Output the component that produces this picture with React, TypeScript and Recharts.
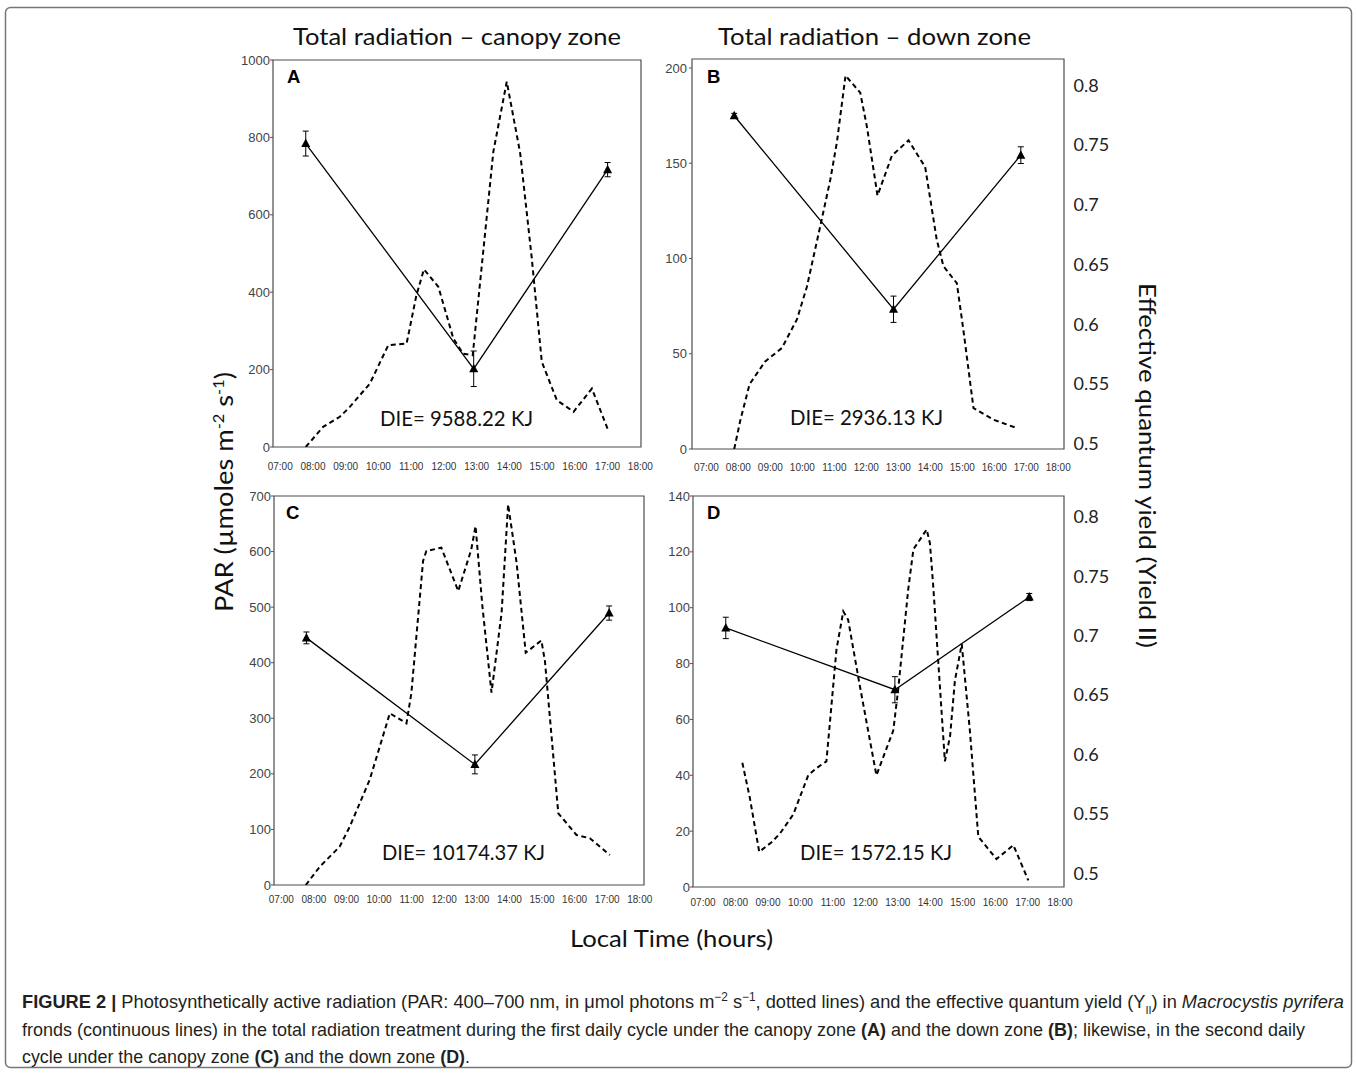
import React from "react";
import { LineChart, Line, XAxis, YAxis, ErrorBar, ReferenceArea } from "recharts";

// shared tick labels
const hourTicks = [7, 8, 9, 10, 11, 12, 13, 14, 15, 16, 17, 18];
const yieldTicks = [0.5, 0.55, 0.6, 0.65, 0.7, 0.75, 0.8];

// A: total radiation, canopy zone (first cycle)
const parTimeA = [7.78, 8.31, 8.82, 9.12, 9.74, 10.3, 10.86, 11.16, 11.39, 11.83, 12.29, 12.59, 12.88, 13.51, 13.92, 14.33, 14.68, 14.99, 15.45, 15.96, 16.52, 17.0];
const parA = [0, 52, 78, 103, 164, 263, 267, 392, 459, 414, 280, 241, 237, 763, 944, 759, 491, 220, 121, 91, 151, 47];
const yieldTimeA = [7.78, 12.91, 17.0];
const yieldA = [0.751, 0.561, 0.729];
const yieldErrA = [0.0105, 0.015, 0.006];
const parTicksA = [0, 200, 400, 600, 800, 1000];

// B: total radiation, down zone (first cycle)
const parTimeB = [7.87, 8.06, 8.35, 8.84, 9.36, 9.83, 10.14, 10.56, 10.87, 11.08, 11.35, 11.81, 12.02, 12.35, 12.8, 13.32, 13.84, 14.2, 14.41, 14.83, 15.03, 15.35, 15.97, 16.7];
const parB = [0, 15, 34, 46, 53, 68, 85, 117, 141, 161, 196, 187, 169, 133, 154, 162, 148, 110, 96, 87, 63, 21.5, 15.4, 11];
const yieldTimeB = [7.87, 12.85, 16.83];
const yieldB = [0.774, 0.612, 0.741];
const yieldErrB = [0.002, 0.011, 0.007];
const parTicksB = [0, 50, 100, 150, 200];

// C: total radiation, canopy zone (second cycle)
const parTimeC = [7.75, 8.18, 8.79, 9.1, 9.71, 10.02, 10.33, 10.84, 10.99, 11.35, 11.45, 11.91, 12.43, 12.83, 12.96, 13.17, 13.45, 13.76, 13.96, 14.22, 14.5, 14.98, 15.09, 15.5, 16.06, 16.47, 17.08];
const parC = [0, 33, 69, 105, 189, 249, 309, 291, 345, 583, 601, 607, 529, 604, 646, 502, 346, 490, 685, 580, 418, 440, 403, 129, 90, 84, 54];
const yieldTimeC = [7.77, 12.94, 17.06];
const yieldC = [0.697, 0.59, 0.718];
const yieldErrC = [0.005, 0.008, 0.006];
const parTicksC = [0, 100, 200, 300, 400, 500, 600, 700];

// D: total radiation, down zone (second cycle)
const parTimeD = [8.21, 8.44, 8.73, 9.11, 9.36, 9.78, 10.24, 10.49, 10.8, 11.11, 11.32, 11.47, 11.83, 12.34, 12.86, 13.01, 13.32, 13.48, 13.89, 13.99, 14.09, 14.45, 14.61, 14.76, 14.97, 15.22, 15.48, 16.04, 16.56, 17.02];
const parD = [44.5, 32, 12.6, 16, 19, 26, 40, 42.5, 45, 85, 98.7, 95.7, 72, 40, 56, 70.6, 106.5, 120.9, 128, 123, 108, 45, 54, 74, 87, 56, 18, 10, 15, 2.4];
const yieldTimeD = [7.7, 12.91, 17.05];
const yieldD = [0.706, 0.654, 0.732];
const yieldErrD = [0.009, 0.011, 0.003];
const parTicksD = [0, 20, 40, 60, 80, 100, 120, 140];

const rows = (t: number[], v: number[], e?: number[]) =>
  t.map((x, i) => ({ t: x, v: v[i], e: e ? e[i] : 0 }));

const hhmm = (h: number) => `${String(h).padStart(2, "0")}:00`;

const ARIAL = "'Liberation Sans', Arial, sans-serif";
const CALI = "Lato, 'Open Sans', sans-serif";

function Tri(p: any) {
  const { cx, cy, index } = p;
  if (cx == null || cy == null) return <g key={`t${index}`} />;
  return (
    <path
      key={`t${index}`}
      d={`M${cx},${cy - 5} L${cx + 4.5},${cy + 3.5} L${cx - 4.5},${cy + 3.5} Z`}
      fill="#000"
    />
  );
}

type PanelProps = {
  par: { t: number; v: number }[];
  yld: { t: number; v: number; e: number }[];
  parTicks: number[];
  parMax: number;
  xDomain: [number, number];
  yDomain: [number, number];
  box: { l: number; t: number; w: number; h: number };
  right: boolean;
  xLabelDy: number;
  leftMargin: number;
};

function Panel({ par, yld, parTicks, parMax, xDomain, yDomain, box, right, xLabelDy, leftMargin }: PanelProps) {
  const yw = 45;
  const rw = right ? 50 : 0;
  const pad = 25;
  const width = yw + box.w + rw + pad;
  const height = 10 + box.h + 30;
  return (
    <div style={{ position: "absolute", left: box.l - yw, top: box.t - 10 }}>
      <LineChart width={width} height={height} margin={{ top: 10, right: pad, bottom: 0, left: 0 }}>
        <XAxis
          type="number"
          dataKey="t"
          domain={xDomain}
          ticks={hourTicks}
          interval={0}
          allowDataOverflow
          axisLine={false}
          tickLine={false}
          tickSize={0}
          tickMargin={0}
          height={30}
          tick={(p: any) => (
            <text x={p.x} y={p.y + xLabelDy} textAnchor="middle" dominantBaseline="central" fontSize={10} fill="#333" fontFamily={ARIAL}>
              {hhmm(p.payload.value)}
            </text>
          )}
        />
        <YAxis
          yAxisId="par"
          type="number"
          domain={[0, parMax]}
          ticks={parTicks}
          interval={0}
          allowDataOverflow
          width={yw}
          axisLine={false}
          tickLine={{ stroke: "#555" }}
          tickSize={3}
          tickMargin={leftMargin}
          tick={{ fontSize: 13, fill: "#444", fontFamily: ARIAL }}
        />
        <YAxis
          yAxisId="yield"
          orientation="right"
          type="number"
          domain={yDomain}
          ticks={yieldTicks}
          interval={0}
          allowDataOverflow
          hide={!right}
          width={rw}
          axisLine={false}
          tickLine={false}
          tickSize={0}
          tickMargin={0}
          tick={(p: any) => (
            <text x={p.x + 9.5} y={p.y} dominantBaseline="central" fontSize={18} fill="#222" fontFamily={CALI}>
              {String(p.payload.value)}
            </text>
          )}
        />
        <ReferenceArea
          yAxisId="par"
          x1={xDomain[0]}
          x2={xDomain[1]}
          y1={0}
          y2={parMax}
          fill="none"
          stroke="#4d4d4d"
          strokeWidth={1.2}
          ifOverflow="visible"
        />
        <Line
          data={par}
          dataKey="v"
          yAxisId="par"
          type="linear"
          stroke="#000"
          strokeWidth={2}
          strokeDasharray="5 3.5"
          dot={false}
          activeDot={false}
          isAnimationActive={false}
        />
        <Line
          data={yld}
          dataKey="v"
          yAxisId="yield"
          type="linear"
          stroke="#000"
          strokeWidth={1.3}
          dot={Tri}
          activeDot={false}
          isAnimationActive={false}
        >
          <ErrorBar dataKey="e" direction="y" width={3} strokeWidth={1} stroke="#000" />
        </Line>
      </LineChart>
    </div>
  );
}

export default function App() {
  return (
    <div style={{ position: "absolute", left: 0, top: 0, width: 1357, height: 1074, background: "#fff" }}>
      <Panel
        par={rows(parTimeA, parA)}
        yld={rows(yieldTimeA, yieldA, yieldErrA)}
        parTicks={parTicksA}
        parMax={1000}
        xDomain={[6.78, 18.02]}
        yDomain={[0.495, 0.8215]}
        box={{ l: 273, t: 60, w: 368, h: 387 }}
        right={false}
        xLabelDy={19.7}
        leftMargin={0}
      />
      <Panel
        par={rows(parTimeB, parB)}
        yld={rows(yieldTimeB, yieldB, yieldErrB)}
        parTicks={parTicksB}
        parMax={204.7}
        xDomain={[6.55, 18.18]}
        yDomain={[0.495, 0.8215]}
        box={{ l: 692, t: 59, w: 372, h: 390 }}
        right={true}
        xLabelDy={18.4}
        leftMargin={2}
      />
      <Panel
        par={rows(parTimeC, parC)}
        yld={rows(yieldTimeC, yieldC, yieldErrC)}
        parTicks={parTicksC}
        parMax={700}
        xDomain={[6.775, 18.13]}
        yDomain={[0.488, 0.817]}
        box={{ l: 274, t: 496, w: 370, h: 389 }}
        right={false}
        xLabelDy={14.3}
        leftMargin={0}
      />
      <Panel
        par={rows(parTimeD, parD)}
        yld={rows(yieldTimeD, yieldD, yieldErrD)}
        parTicks={parTicksD}
        parMax={140}
        xDomain={[6.69, 18.12]}
        yDomain={[0.488, 0.817]}
        box={{ l: 693, t: 496, w: 371, h: 391 }}
        right={true}
        xLabelDy={15}
        leftMargin={0}
      />

      <svg width={1357} height={1074} style={{ position: "absolute", left: 0, top: 0, pointerEvents: "none" }}>
        <rect x={5.5} y={7.5} width={1346} height={1060} rx={5} fill="none" stroke="#777" strokeWidth={1.5} />

        <g fontFamily={CALI} fill="#111">
          <text x={293} y={45} fontSize={24} textLength={328} lengthAdjust="spacingAndGlyphs">Total radiation – canopy zone</text>
          <text x={718} y={45} fontSize={24} textLength={313} lengthAdjust="spacingAndGlyphs">Total radiation – down zone</text>

          <text x={380} y={426} fontSize={21} textLength={153} lengthAdjust="spacingAndGlyphs">DIE= 9588.22 KJ</text>
          <text x={790} y={425} fontSize={21} textLength={153} lengthAdjust="spacingAndGlyphs">DIE= 2936.13 KJ</text>
          <text x={382} y={860} fontSize={21} textLength={163} lengthAdjust="spacingAndGlyphs">DIE= 10174.37 KJ</text>
          <text x={800} y={860} fontSize={21} textLength={152} lengthAdjust="spacingAndGlyphs">DIE= 1572.15 KJ</text>

          <text x={570} y={947} fontSize={24} textLength={203} lengthAdjust="spacingAndGlyphs">Local Time (hours)</text>

          <text transform="translate(233,612) rotate(-90)" fontSize={25} textLength={240} lengthAdjust="spacingAndGlyphs">
            PAR (µmoles m<tspan baselineShift="super" fontSize={15}>-2</tspan> s<tspan baselineShift="super" fontSize={15}>-1</tspan>)
          </text>
          <text transform="translate(1139,283) rotate(90)" fontSize={24} textLength={365} lengthAdjust="spacingAndGlyphs">
            Effective quantum yield (Yield II)
          </text>
        </g>

        <g fontFamily={ARIAL} fontWeight="bold" fontSize={18.5} fill="#000">
          <text x={287} y={83}>A</text>
          <text x={707} y={83}>B</text>
          <text x={286} y={519}>C</text>
          <text x={707} y={519}>D</text>
        </g>

        <g fontFamily={ARIAL} fontSize={18.5} fill="#231f20">
          <text x={22} y={1008} textLength={1322} lengthAdjust="spacingAndGlyphs">
            <tspan fontWeight="bold">FIGURE 2 |</tspan>{" "}Photosynthetically active radiation (PAR: 400–700 nm, in μmol photons m
            <tspan baselineShift="super" fontSize={12}>−2</tspan>{" "}s<tspan baselineShift="super" fontSize={12}>−1</tspan>, dotted lines) and the effective quantum yield (Y
            <tspan baselineShift="sub" fontSize={11}>II</tspan>) in{" "}
            <tspan fontStyle="italic">Macrocystis pyrifera</tspan>
          </text>
          <text x={22} y={1036} textLength={1283} lengthAdjust="spacingAndGlyphs">
            fronds (continuous lines) in the total radiation treatment during the first daily cycle under the canopy zone{" "}
            <tspan fontWeight="bold">(A)</tspan> and the down zone <tspan fontWeight="bold">(B)</tspan>; likewise, in the second daily
          </text>
          <text x={22} y={1063} textLength={448} lengthAdjust="spacingAndGlyphs">
            cycle under the canopy zone <tspan fontWeight="bold">(C)</tspan> and the down zone <tspan fontWeight="bold">(D)</tspan>.
          </text>
        </g>
      </svg>
    </div>
  );
}
